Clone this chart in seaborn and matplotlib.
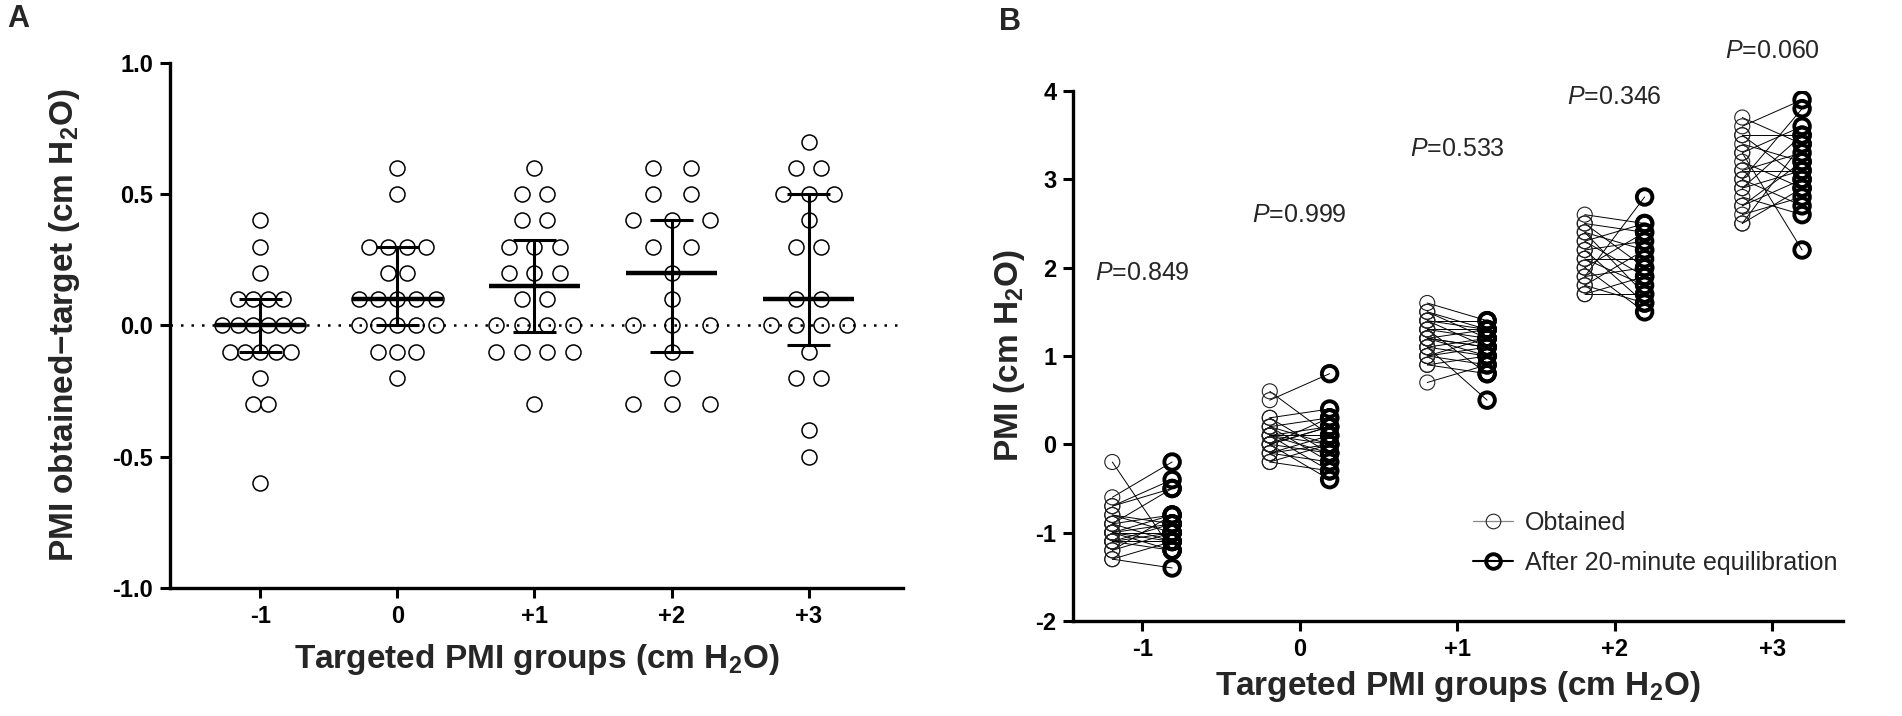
import numpy as np
import pandas as pd
import seaborn as sns
import matplotlib.pyplot as plt
from matplotlib.lines import Line2D

groups = ['-1', '0', '+1', '+2', '+3']

# Panel A: PMI obtained - target, per targeted group
diff_m1 = [0.4, 0.3, 0.2, 0.1, 0.1, 0.1, 0.1, 0.0, 0.0, 0.0, 0.0, 0.0, 0.0,
           -0.1, -0.1, -0.1, -0.1, -0.1, -0.2, -0.3, -0.3, -0.6]
diff_0 = [0.6, 0.5, 0.3, 0.3, 0.3, 0.3, 0.2, 0.2, 0.1, 0.1, 0.1, 0.1, 0.1,
          0.0, 0.0, 0.0, 0.0, 0.0, -0.1, -0.1, -0.1, -0.2]
diff_p1 = [0.6, 0.5, 0.5, 0.4, 0.4, 0.3, 0.3, 0.3, 0.2, 0.2, 0.2, 0.1, 0.1,
           0.0, 0.0, 0.0, 0.0, -0.1, -0.1, -0.1, -0.1, -0.3]
diff_p2 = [0.6, 0.6, 0.5, 0.5, 0.4, 0.4, 0.4, 0.3, 0.3, 0.2, 0.1, 0.0, 0.0,
           0.0, -0.1, -0.2, -0.3, -0.3, -0.3]
diff_p3 = [0.7, 0.6, 0.6, 0.5, 0.5, 0.5, 0.4, 0.3, 0.3, 0.1, 0.1, 0.0, 0.0,
           0.0, 0.0, -0.1, -0.2, -0.2, -0.4, -0.5]
diffs = [diff_m1, diff_0, diff_p1, diff_p2, diff_p3]

# Panel B: obtained PMI and PMI after 20-minute equilibration (paired)
obt_m1 = [-0.2, -0.6, -0.7, -0.7, -0.8, -0.8, -0.9, -0.9, -0.9, -1.0, -1.0,
          -1.0, -1.0, -1.0, -1.1, -1.1, -1.1, -1.1, -1.2, -1.2, -1.3, -1.3]
aft_m1 = [-1.2, -0.2, -0.4, -0.5, -0.9, -1.0, -0.8, -1.1, -0.5, -1.0, -0.9,
          -1.2, -1.1, -0.8, -1.0, -1.2, -0.9, -1.1, -1.0, -0.8, -1.4, -1.1]
obt_0 = [0.6, 0.5, 0.3, 0.3, 0.2, 0.2, 0.2, 0.1, 0.1, 0.1, 0.1, 0.0, 0.0,
         0.0, 0.0, -0.1, -0.1, -0.1, -0.2, -0.2, 0.1, 0.0]
aft_0 = [0.1, 0.8, 0.4, -0.1, 0.3, 0.0, -0.2, 0.2, -0.3, 0.1, 0.0, 0.3, -0.1,
         -0.4, 0.2, 0.0, -0.2, 0.1, -0.3, 0.0, -0.1, 0.2]
obt_p1 = [1.6, 1.5, 1.5, 1.4, 1.4, 1.3, 1.3, 1.3, 1.2, 1.2, 1.2, 1.1, 1.1,
          1.1, 1.0, 1.0, 1.0, 0.9, 0.9, 0.7, 1.2, 1.4]
aft_p1 = [1.4, 1.3, 1.2, 1.4, 1.1, 0.8, 1.2, 1.3, 1.0, 1.1, 1.3, 0.5, 1.2,
          1.0, 1.1, 0.9, 1.2, 0.8, 1.0, 0.9, 1.1, 1.3]
obt_p2 = [2.6, 2.5, 2.5, 2.4, 2.4, 2.3, 2.3, 2.2, 2.2, 2.1, 2.1, 2.0, 2.0,
          1.9, 1.9, 1.8, 1.8, 1.7, 1.7]
aft_p2 = [2.5, 2.0, 2.4, 1.7, 2.2, 2.5, 1.9, 2.3, 1.6, 2.1, 1.8, 2.4, 1.5,
          2.8, 2.0, 2.2, 1.6, 1.9, 1.7]
obt_p3 = [3.7, 3.6, 3.5, 3.5, 3.4, 3.3, 3.3, 3.2, 3.1, 3.0, 3.0, 2.9, 2.9,
          2.8, 2.7, 2.7, 2.6, 2.5, 2.5, 3.1]
aft_p3 = [3.4, 3.9, 3.0, 3.5, 3.2, 2.2, 3.6, 2.9, 3.3, 3.8, 2.7, 3.1, 3.5,
          2.6, 3.0, 3.2, 2.8, 2.9, 3.4, 3.1]
obtained = [obt_m1, obt_0, obt_p1, obt_p2, obt_p3]
after = [aft_m1, aft_0, aft_p1, aft_p2, aft_p3]

p_values = ['0.849', '0.999', '0.533', '0.346', '0.060']
p_text_y = [1.94, 2.6, 3.34, 3.93, 4.45]

sns.set_theme(style='ticks')
plt.rcParams['font.family'] = ['Liberation Sans', 'DejaVu Sans']
plt.rcParams['mathtext.fontset'] = 'custom'
plt.rcParams['mathtext.rm'] = 'Liberation Sans'
plt.rcParams['mathtext.it'] = 'Liberation Sans:italic'
plt.rcParams['mathtext.bf'] = 'Liberation Sans:bold'
plt.rcParams['axes.unicode_minus'] = False

fig = plt.figure(figsize=(19.02, 7.16), dpi=100)
axA = fig.add_axes([0.0894, 0.1788, 0.3854, 0.7332])
axB = fig.add_axes([0.5641, 0.1327, 0.4049, 0.7402])

# ---- Panel A: scatter dot plot with median and IQR
rows = []
for gi, vals in enumerate(diffs):
    vals = np.round(np.array(vals), 1)
    uniq, counts = np.unique(vals, return_counts=True)
    step = 0.555 / (counts.max() - 1)
    for v, k in zip(uniq, counts):
        for j in range(k):
            rows.append({'x': gi + (j - (k - 1) / 2) * step, 'y': v})
dfa = pd.DataFrame(rows)

sns.scatterplot(data=dfa, x='x', y='y', ax=axA, s=117, facecolor='white',
                edgecolor='black', linewidth=1.1, zorder=3, legend=False)
axA.axhline(0, color='black', lw=1.8, ls=(0, (1, 3.2)), zorder=4)

for gi, vals in enumerate(diffs):
    q1, med, q3 = np.percentile(vals, [25, 50, 75], method='weibull')
    axA.hlines(med, gi - 0.33, gi + 0.33, color='black', lw=3.2, zorder=5)
    axA.vlines(gi, q1, q3, color='black', lw=2.2, zorder=5)
    axA.hlines([q1, q3], gi - 0.16, gi + 0.16, color='black', lw=2.2, zorder=5)

axA.set_xlim(-0.66, 4.69)
axA.set_ylim(-1, 1)
axA.set_yticks([-1.0, -0.5, 0.0, 0.5, 1.0])
axA.set_yticklabels(['-1.0', '-0.5', '0.0', '0.5', '1.0'])
axA.set_xticks(range(len(groups)))
axA.set_xticklabels(groups)
axA.set_xlabel('Targeted PMI groups (cm H$_\\mathbf{2}$O)', fontsize=24,
               fontweight='bold', labelpad=10)
axA.set_ylabel('PMI obtained\u2212target (cm H$_\\mathbf{2}$O)', fontsize=24,
               fontweight='bold', labelpad=22)

# ---- Panel B: paired before/after plot
rowsb = []
pid = 0
for gi in range(len(groups)):
    for o, a in zip(obtained[gi], after[gi]):
        rowsb.append({'pair': pid, 'cond': 'Obtained', 'x': gi - 0.19, 'value': o})
        rowsb.append({'pair': pid, 'cond': 'After', 'x': gi + 0.19, 'value': a})
        pid += 1
dfb = pd.DataFrame(rowsb)

sns.lineplot(data=dfb, x='x', y='value', units='pair', estimator=None,
             color='black', lw=0.7, sort=False, ax=axB, legend=False)
sns.scatterplot(data=dfb[dfb.cond == 'Obtained'], x='x', y='value', ax=axB,
                s=117, facecolor='none', edgecolor='#222222', linewidth=0.8,
                zorder=3, legend=False)
sns.scatterplot(data=dfb[dfb.cond == 'After'], x='x', y='value', ax=axB,
                s=125, facecolor='none', edgecolor='black', linewidth=2.8,
                zorder=4, legend=False)

for gi, (p, ty) in enumerate(zip(p_values, p_text_y)):
    axB.text(gi, ty, '$\\it{P}$=' + p, ha='center', va='center',
             fontsize=18, clip_on=False)

axB.set_xlim(-0.44, 4.45)
axB.set_ylim(-2, 4)
axB.set_yticks(range(-2, 5))
axB.set_yticklabels([str(v) for v in range(-2, 5)])
axB.set_xticks(range(len(groups)))
axB.set_xticklabels(groups)
axB.set_xlabel('Targeted PMI groups (cm H$_\\mathbf{2}$O)', fontsize=24,
               fontweight='bold', labelpad=6)
axB.set_ylabel('PMI (cm H$_\\mathbf{2}$O)', fontsize=24, fontweight='bold',
               labelpad=6)

handles = [
    Line2D([0], [0], color='#888888', lw=0.9, marker='o', mfc='none',
           mec='#222222', ms=10.5, mew=0.8),
    Line2D([0], [0], color='black', lw=1.5, marker='o', mfc='none',
           mec='black', ms=10.5, mew=2.8),
]
axB.legend(handles, ['Obtained', 'After 20-minute equilibration'],
           loc='upper left', bbox_to_anchor=(0.49, 0.25), frameon=False,
           fontsize=18, handlelength=1.6, labelspacing=0.65, handletextpad=0.5)

for ax in (axA, axB):
    sns.despine(ax=ax)
    for s in ('left', 'bottom'):
        ax.spines[s].set_linewidth(2.4)
        ax.spines[s].set_color('black')
    ax.tick_params(direction='out', length=7, width=2.2, colors='black',
                   labelsize=17, pad=5)
    for lab in ax.get_xticklabels() + ax.get_yticklabels():
        lab.set_fontweight('bold')

fig.text(0.004, 0.995, 'A', fontsize=22, fontweight='bold', va='top')
fig.text(0.525, 0.99, 'B', fontsize=22, fontweight='bold', va='top')

fig.savefig('out.png', dpi=100)
